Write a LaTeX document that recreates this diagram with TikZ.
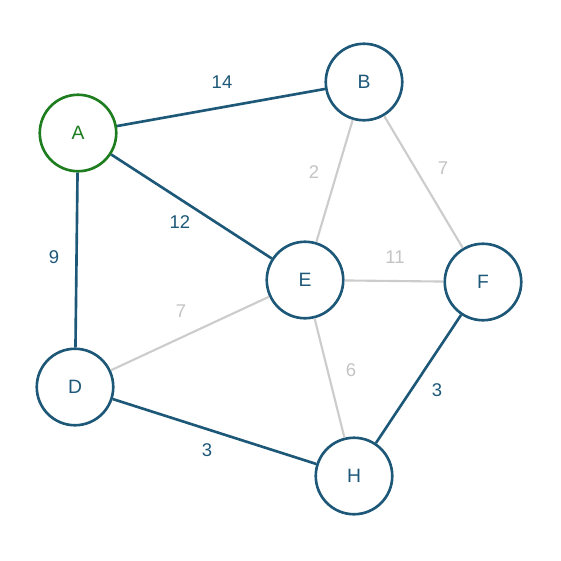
\documentclass[tikz,border=0pt]{standalone}
\usepackage{fontspec}
\setmainfont{Liberation Sans}
\definecolor{dblue}{HTML}{1D5878}
\definecolor{dgreen}{HTML}{1E7D1E}
\definecolor{lgray}{HTML}{CCCCCC}
\definecolor{tgray}{HTML}{C4C4C4}
\begin{document}
\begin{tikzpicture}[x=0.02cm,y=-0.02cm,
  vtx/.style={circle,draw=dblue,line width=1.5pt,fill=white,minimum size=1.53cm,inner sep=0pt,text=dblue,font=\fontsize{11}{13}\selectfont},
  start/.style={vtx,draw=dgreen,text=dgreen},
  used/.style={draw=dblue,line width=1.5pt},
  unused/.style={draw=lgray,line width=1.2pt},
  wused/.style={text=dblue,font=\fontsize{10.5}{12}\selectfont},
  wunused/.style={text=tgray,font=\fontsize{10.5}{12}\selectfont}]
\useasboundingbox[fill=white] (0,0) rectangle (561,561);
\node[start] (A) at (78,133) {A};
\node[vtx] (B) at (364,82) {B};
\node[vtx] (E) at (305,280) {E};
\node[vtx] (F) at (483,282) {F};
\node[vtx] (D) at (75,387) {D};
\node[vtx] (H) at (354,476) {H};
\draw[unused] (B) -- (E);
\draw[unused] (B) -- (F);
\draw[unused] (E) -- (F);
\draw[unused] (D) -- (E);
\draw[unused] (E) -- (H);
\draw[used] (A) -- (B);
\draw[used] (A) -- (E);
\draw[used] (A) -- (D);
\draw[used] (D) -- (H);
\draw[used] (F) -- (H);
\node[wused] (w1) at (222,82) {14};
\node[wunused] (w2) at (314,172) {2};
\node[wunused] (w3) at (443,168) {7};
\node[wused] (w4) at (180,222) {12};
\node[wused] (w5) at (54,257) {9};
\node[wunused] (w6) at (395,257) {11};
\node[wunused] (w7) at (181,311) {7};
\node[wunused] (w8) at (351,370) {6};
\node[wused] (w9) at (437,390) {3};
\node[wused] (w10) at (207,450) {3};
\end{tikzpicture}
\end{document}
